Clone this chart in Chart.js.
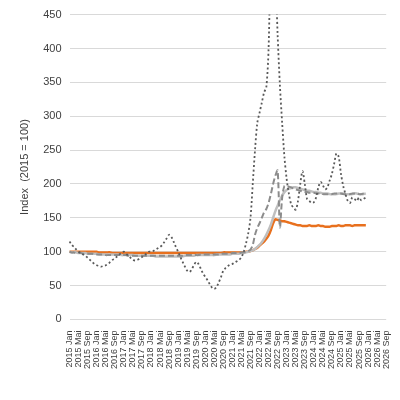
<!DOCTYPE html>
<html>
<head>
<meta charset="utf-8">
<script src="https://cdn.jsdelivr.net/npm/chart.js@4"></script>
<style>
  html, body { margin: 0; padding: 0; background: #fff; }
  #wrap { width: 400px; height: 400px; }
</style>
</head>
<body>
<div id="wrap"><canvas id="c"></canvas></div>
<script>
// month names as used on the axis
const monthNames = ['Jan','Feb','Mär','Apr','Mai','Jun','Jul','Aug','Sep','Okt','Nov','Dez'];
const startYear = 2015, endYear = 2026, lastMonth = 8; // up to 2026 Sep

const labels = [];
for (let y = startYear; y <= endYear; y++) {
    for (let m = 0; m < 12; m++) {
        if (y === endYear && m > lastMonth) break;
        labels.push(y + ' ' + monthNames[m]);
    }
}

// values per month, 2015 Jan .. 2025 Dec
const seriesOrange = [
    100,100,100,100,100,100,100,100,100,100,100,100,
    100,99,99,99,99,99,99,98,98,98,98,98,
    98,98,98,98,98,98,98,98,98,98,98,98,
    98,98,98,98,98,98,98,98,98,98,98,98,
    98,98,98,98,98,98,98,98,98,98,98,98,
    98,98,98,98,98,98,98,98,99,99,99,99,
    99,99,99,99,99,99,100,100,101,102,104,106,
    109,112,115,119,124,132,142,148,147,146,145,145,
    144,143,142,141,140,139,139,138,138,138,139,138,
    138,138,139,138,138,137,137,137,138,138,138,139,
    138,138,139,139,139,138,139,139,139,139,139,139
];
const seriesLightGray = [
    100,99,99,99,98,98,98,98,97,97,97,97,
    97,96,96,96,96,96,96,96,96,96,96,95,
    95,95,95,95,95,94,94,94,94,94,94,94,
    94,94,93,93,93,93,93,93,93,93,93,93,
    93,93,93,94,94,94,94,94,95,95,95,95,
    95,95,95,95,95,96,96,96,96,96,96,96,
    97,97,97,97,98,98,99,100,101,102,104,107,
    110,114,119,125,132,140,150,160,168,176,183,188,
    191,193,194,195,195,194,193,192,191,190,190,189,
    188,188,187,187,186,186,186,185,185,185,185,186,
    186,186,185,185,185,185,186,186,185,185,185,186
];
const seriesDashed = [
    100,99,99,98,98,98,97,97,97,97,97,96,
    96,96,96,96,95,95,95,95,95,95,95,95,
    95,95,94,94,94,94,94,94,94,94,94,94,
    94,94,94,94,94,94,94,94,94,94,94,94,
    94,94,94,95,95,95,95,95,95,95,96,96,
    96,96,96,96,96,96,96,97,97,97,97,97,
    98,98,98,98,99,99,100,101,103,110,125,135,
    142,150,158,163,172,185,200,212,220,136,180,197,
    197,196,195,193,192,191,190,189,188,188,187,187,
    187,186,186,186,185,185,185,185,185,186,186,186,
    186,185,185,185,185,186,186,186,185,185,186,186
];
const seriesDotted = [
    115,110,107,103,100,98,96,94,91,88,85,82,
    80,79,78,79,80,82,85,88,90,93,96,98,
    100,97,94,91,88,87,88,90,92,95,97,100,
    100,101,103,105,107,110,115,120,125,122,115,107,
    100,92,85,78,72,70,74,80,85,82,75,68,
    63,58,52,47,45,48,55,63,72,76,79,81,
    82,84,86,88,92,100,112,127,150,200,250,290,
    305,320,335,343,400,550,600,520,420,346,290,240,
    207,185,170,165,162,175,200,219,200,178,175,172,
    173,180,195,203,198,192,195,205,215,230,245,240,
    215,197,185,175,172,180,178,175,180,176,178,180
];

const yMin = 0, yMax = 450, yStep = 10, yMajor = 50;

new Chart(document.getElementById('c'), {
    type: 'line',
    data: {
        labels: labels,
        datasets: [
            { data: seriesDotted, borderColor: '#595959', borderWidth: 1.8, borderDash: [2, 2.5] },
            { data: seriesDashed, borderColor: '#8c8c8c', borderWidth: 2, borderDash: [6, 3] },
            { data: seriesLightGray, borderColor: '#bfbfbf', borderWidth: 2.5 },
            { data: seriesOrange, borderColor: '#e8701e', borderWidth: 2.5 }
        ]
    },
    options: {
        responsive: true,
        maintainAspectRatio: false,
        animation: false,
        layout: { padding: { top: 13, right: 12, bottom: 28, left: 14 } },
        elements: { point: { radius: 0 }, line: { tension: 0.3 } },
        plugins: { legend: { display: false }, tooltip: { enabled: false } },
        scales: {
            x: {
                offset: false,
                grid: { display: false },
                border: { display: false },
                ticks: {
                    autoSkip: false,
                    maxRotation: 90,
                    minRotation: 90,
                    padding: 3,
                    color: '#404040',
                    font: { family: 'Liberation Sans', size: 9 },
                    callback: function(v, i) { return i % 4 === 0 ? labels[i] : null; }
                }
            },
            y: {
                min: yMin,
                max: yMax,
                border: { display: false },
                grid: {
                    color: function(ctx) {
                        return ctx.tick.value % yMajor === 0 ? '#d9d9d9' : '#f4f4f4';
                    },
                    drawTicks: false
                },
                ticks: {
                    stepSize: yStep,
                    padding: 8,
                    color: '#404040',
                    font: { family: 'Liberation Sans', size: 11 },
                    callback: function(v) { return v % yMajor === 0 ? v : null; }
                },
                title: {
                    display: true,
                    text: 'Index  (2015 = 100)',
                    color: '#404040',
                    font: { family: 'Liberation Sans', size: 11 }
                }
            }
        }
    }
});
</script>
</body>
</html>
